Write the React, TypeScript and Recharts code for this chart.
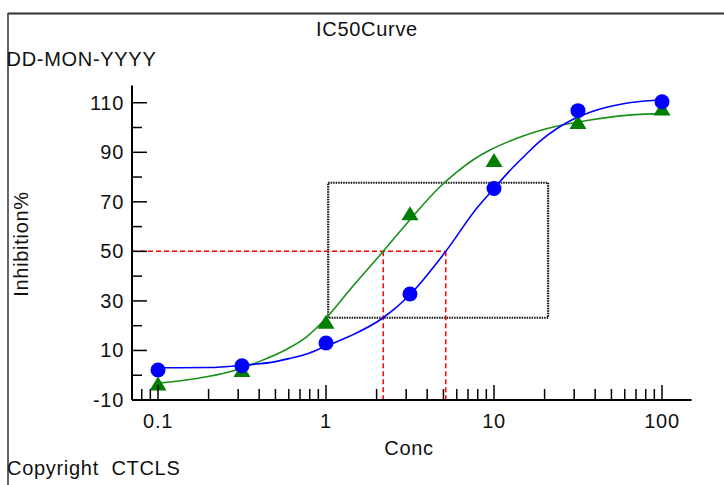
import React from 'react';
import {
  ComposedChart,
  Line,
  Scatter,
  XAxis,
  YAxis,
  ReferenceLine,
  ReferenceArea,
} from 'recharts';

// measured points
const bluePoints = [
  { x: 0.1, y: 2.1 },
  { x: 0.316, y: 3.8 },
  { x: 1, y: 13 },
  { x: 3.16, y: 32.8 },
  { x: 10, y: 75.4 },
  { x: 31.6, y: 106.8 },
  { x: 100, y: 110.4 },
];

const greenPoints = [
  { x: 0.1, y: -3.3 },
  { x: 0.316, y: 2.1 },
  { x: 1, y: 21.6 },
  { x: 3.16, y: 65.4 },
  { x: 10, y: 86.9 },
  { x: 31.6, y: 102.2 },
  { x: 100, y: 107.7 },
];

// fitted curves
const blueCurve = [
  { x: 0.1, y: 3.0 },
  { x: 0.2, y: 3.1 },
  { x: 0.316, y: 4.0 },
  { x: 0.5, y: 5.5 },
  { x: 0.61, y: 6.8 },
  { x: 0.8, y: 9.0 },
  { x: 1.0, y: 11.8 },
  { x: 1.39, y: 15.8 },
  { x: 2.19, y: 23.2 },
  { x: 3.16, y: 32.5 },
  { x: 5.16, y: 50 },
  { x: 7.89, y: 67.4 },
  { x: 10, y: 75.4 },
  { x: 12, y: 81.5 },
  { x: 15.7, y: 89.5 },
  { x: 18.8, y: 94.5 },
  { x: 23.6, y: 99.5 },
  { x: 29.6, y: 103.3 },
  { x: 37.3, y: 106.2 },
  { x: 46.8, y: 108.2 },
  { x: 58.9, y: 109.6 },
  { x: 74, y: 110.5 },
  { x: 100, y: 111.2 },
];

const greenCurve = [
  { x: 0.1, y: -3.2 },
  { x: 0.17, y: -1.3 },
  { x: 0.268, y: 1.4 },
  { x: 0.42, y: 6.1 },
  { x: 0.58, y: 10.4 },
  { x: 0.77, y: 15.6 },
  { x: 1.03, y: 24 },
  { x: 1.39, y: 34.6 },
  { x: 2.19, y: 50 },
  { x: 3.16, y: 62.8 },
  { x: 4.77, y: 76.1 },
  { x: 6.0, y: 82.0 },
  { x: 7.53, y: 87.0 },
  { x: 9.46, y: 90.9 },
  { x: 11.9, y: 94.0 },
  { x: 14.9, y: 96.6 },
  { x: 18.8, y: 98.8 },
  { x: 23.6, y: 100.5 },
  { x: 28.3, y: 101.6 },
  { x: 37.3, y: 103.0 },
  { x: 46.9, y: 104.0 },
  { x: 58.9, y: 104.8 },
  { x: 74, y: 105.3 },
  { x: 100, y: 105.6 },
];

const ic50Conc = [2.19, 5.16];
const ic50Level = 50;
const boxConc = [1.03, 21];
const boxInhibition = [23.2, 77.7];

const xDomain = [0.07, 150];
const yDomain = [-10, 117];
const xTicks = [
  0.08, 0.09, 0.1, 0.2, 0.3, 0.4, 0.5, 0.6, 0.7, 0.8, 0.9,
  1, 2, 3, 4, 5, 6, 7, 8, 9,
  10, 20, 30, 40, 50, 60, 70, 80, 90, 100,
];
const xLabels = [0.1, 1, 10, 100];
const yTicks = [-10, 0, 10, 20, 30, 40, 50, 60, 70, 80, 90, 100, 110];
const yLabels = [-10, 10, 30, 50, 70, 90, 110];

const FONT = '"Liberation Sans", Arial, sans-serif';
const SPACING = 0.7;

function XTick(props: any) {
  const { x, y, payload } = props;
  const v = payload.value;
  const major = xLabels.includes(v);
  return (
    <g>
      <line x1={x} y1={y} x2={x} y2={y - (major ? 15 : 11)} stroke="#000" strokeWidth={1.5} />
      {major && (
        <text
          x={x}
          y={y + 28}
          textAnchor="middle"
          fontSize={20}
          fontFamily={FONT}
          letterSpacing={SPACING}
          fill="#111"
        >
          {v}
        </text>
      )}
    </g>
  );
}

function YTick(props: any) {
  const { x, y, payload } = props;
  const v = payload.value;
  const major = yLabels.includes(v);
  return (
    <g>
      {v !== -10 && (
        <line x1={x} y1={y} x2={x + (major ? 15 : 10)} y2={y} stroke="#000" strokeWidth={1.5} />
      )}
      {major && (
        <text
          x={x - 8}
          y={y + 7}
          textAnchor="end"
          fontSize={20}
          fontFamily={FONT}
          letterSpacing={SPACING}
          fill="#111"
        >
          {v}
        </text>
      )}
    </g>
  );
}

const dot = (color: string) => (p: any) => (
  <circle cx={p.cx} cy={p.cy} r={7.5} fill={color} />
);

const triangle = (color: string) => (p: any) => (
  <polygon
    points={`${p.cx},${p.cy - 7} ${p.cx - 8.5},${p.cy + 7} ${p.cx + 8.5},${p.cy + 7}`}
    fill={color}
  />
);

export default function App() {
  return (
    <div style={{ position: 'absolute', left: 0, top: 0, width: 724, height: 485, background: '#fff' }}>
      <ComposedChart
        width={724}
        height={485}
        margin={{ top: 85.4, right: 32.4, bottom: 55, left: 92 }}
      >
        <XAxis
          type="number"
          dataKey="x"
          scale="log"
          domain={xDomain}
          allowDataOverflow
          ticks={xTicks}
          interval={0}
          height={30}
          tickSize={0}
          tickMargin={0}
          tickLine={false}
          tick={<XTick />}
          axisLine={{ stroke: '#000', strokeWidth: 2 }}
        />
        <YAxis
          type="number"
          dataKey="y"
          domain={yDomain}
          allowDataOverflow
          ticks={yTicks}
          interval={0}
          width={40}
          tickSize={0}
          tickMargin={0}
          tickLine={false}
          tick={<YTick />}
          axisLine={{ stroke: '#000', strokeWidth: 2 }}
        />
        <ReferenceArea
          x1={boxConc[0]}
          x2={boxConc[1]}
          y1={boxInhibition[0]}
          y2={boxInhibition[1]}
          fill="none"
          fillOpacity={0}
          stroke="#111"
          strokeWidth={2.2}
          strokeDasharray="1.5 1"
        />
        <ReferenceLine
          segment={[{ x: xDomain[0], y: ic50Level }, { x: ic50Conc[1], y: ic50Level }]}
          stroke="#ff0000"
          strokeWidth={1.5}
          strokeDasharray="5 3"
        />
        {ic50Conc.map((c) => (
          <ReferenceLine
            key={c}
            segment={[{ x: c, y: ic50Level }, { x: c, y: yDomain[0] }]}
            stroke="#ff0000"
            strokeWidth={1.5}
            strokeDasharray="5 3"
          />
        ))}
        <Line
          data={greenCurve}
          dataKey="y"
          type="monotone"
          dot={false}
          stroke="#1a8f1a"
          strokeWidth={1.6}
          isAnimationActive={false}
        />
        <Line
          data={blueCurve}
          dataKey="y"
          type="monotone"
          dot={false}
          stroke="#0000ff"
          strokeWidth={1.6}
          isAnimationActive={false}
        />
        <Scatter data={greenPoints} dataKey="y" shape={triangle('#007f00')} isAnimationActive={false} />
        <Scatter data={bluePoints} dataKey="y" shape={dot('#0000ff')} isAnimationActive={false} />
      </ComposedChart>
      <svg
        width={724}
        height={485}
        style={{ position: 'absolute', left: 0, top: 0, pointerEvents: 'none' }}
        fontFamily={FONT}
        fontSize={20}
        letterSpacing={SPACING}
        fill="#111"
      >
        <line x1={8} y1={13.5} x2={724} y2={13.5} stroke="#333" strokeWidth={2} />
        <line x1={8} y1={13} x2={8} y2={485} stroke="#333" strokeWidth={1.5} />
        <text x={367} y={36} textAnchor="middle">IC50Curve</text>
        <text x={6.5} y={66}>DD-MON-YYYY</text>
        <text x={409} y={455} textAnchor="middle">Conc</text>
        <text transform="translate(28,244) rotate(-90)" textAnchor="middle">Inhibition%</text>
        <text x={7} y={475}>{'Copyright\u00a0 CTCLS'}</text>
      </svg>
    </div>
  );
}
